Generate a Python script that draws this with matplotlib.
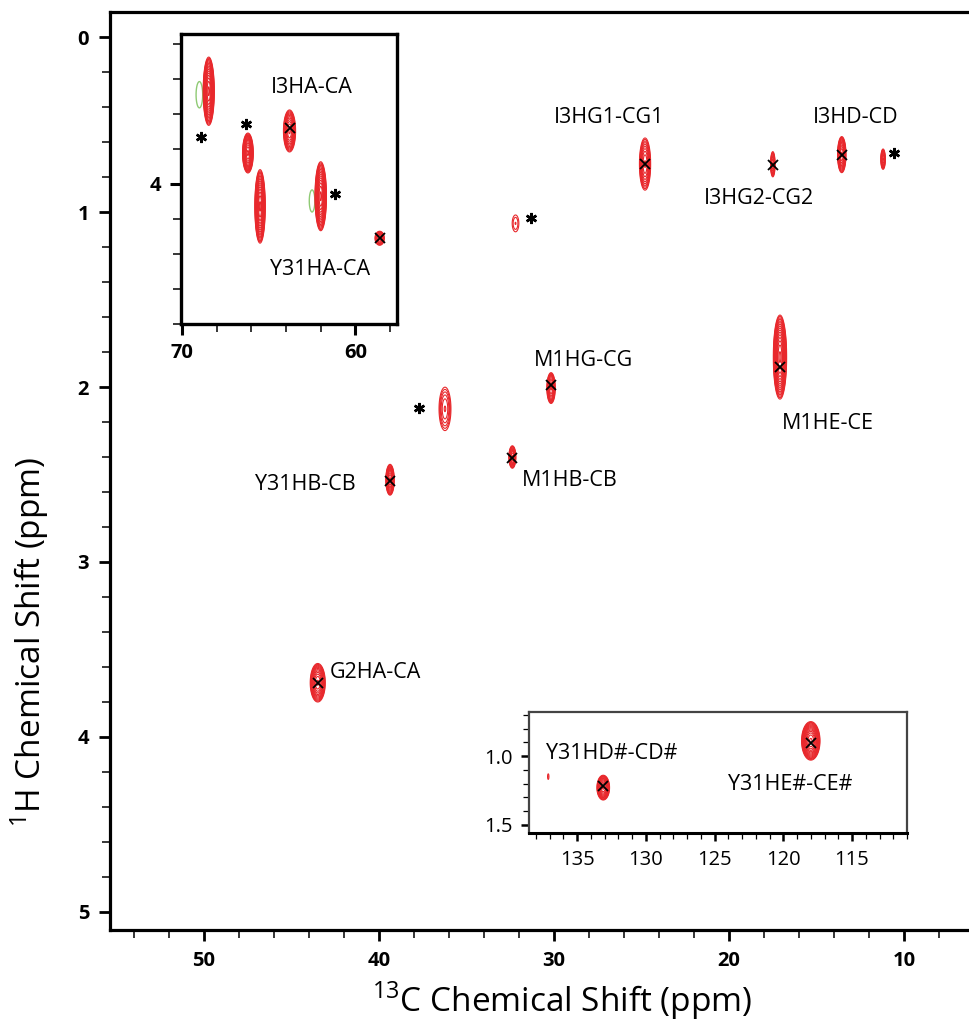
import numpy as np
import matplotlib
matplotlib.use('Agg')
import matplotlib.pyplot as plt
from matplotlib import font_manager as fm
from matplotlib.ticker import MultipleLocator, FixedLocator

# ---------------- data ----------------
# main spectrum peaks: 13C (ppm), 1H (ppm), half-extent C, half-extent H, number of contour levels
main_c = [24.8, 17.5, 13.56, 11.2, 32.2, 30.17, 36.23, 32.38, 39.37, 17.09, 43.5]
main_h = [0.726, 0.727, 0.672, 0.698, 1.065, 2.006, 2.125, 2.40, 2.53, 1.829, 3.69]
main_dc = [0.32, 0.13, 0.24, 0.13, 0.19, 0.24, 0.34, 0.20, 0.24, 0.38, 0.43]
main_dh = [0.149, 0.072, 0.103, 0.058, 0.048, 0.088, 0.124, 0.064, 0.088, 0.24, 0.11]
main_nlev = [10, 8, 12, 8, 3, 10, 6, 10, 12, 16, 12]

# assignment crosses (main)
cross_c = [24.8, 17.5, 13.56, 30.17, 32.38, 39.37, 17.09, 43.5]
cross_h = [0.727, 0.731, 0.674, 1.989, 2.408, 2.537, 1.884, 3.69]

# asterisks (main)
star_c = [31.3, 37.7, 10.6]
star_h = [1.032, 2.118, 0.661]

# labels (main)
lab_text = ['I3HG1-CG1', 'I3HG2-CG2', 'I3HD-CD', 'M1HG-CG', 'M1HB-CB',
            'Y31HB-CB', 'M1HE-CE', 'G2HA-CA']
lab_c = [26.86, 18.29, 12.74, 28.32, 29.12, 44.23, 14.33, 40.23]
lab_h = [0.461, 0.922, 0.461, 1.846, 2.537, 2.556, 2.208, 3.63]

# inset 1 (alpha region)
in1_c = [68.46, 66.2, 65.5, 63.8, 62.0, 58.6]
in1_h = [3.47, 3.823, 4.128, 3.697, 4.07, 4.31]
in1_dc = [0.32, 0.31, 0.30, 0.35, 0.33, 0.27]
in1_dh = [0.195, 0.114, 0.21, 0.12, 0.197, 0.04]
in1_nlev = [16, 14, 16, 12, 16, 8]
in1_neg_c = [69.0, 62.5]
in1_neg_h = [3.49, 4.097]
in1_neg_dc = [0.19, 0.16]
in1_neg_dh = [0.075, 0.063]
in1_cross_c = [63.8, 58.6]
in1_cross_h = [3.68, 4.31]
in1_star_c = [68.9, 66.3, 61.2]
in1_star_h = [3.73, 3.66, 4.06]
in1_lab_text = ['I3HA-CA', 'Y31HA-CA']
in1_lab_c = [62.5, 62.06]
in1_lab_h = [3.446, 4.486]

# inset 2 (aromatic region)
in2_c = [118.0, 133.1, 137.1]
in2_h = [0.89, 1.23, 1.15]
in2_dc = [0.67, 0.46, 0.05]
in2_dh = [0.14, 0.09, 0.02]
in2_nlev = [14, 12, 2]
in2_cross_c = [118.0, 133.1]
in2_cross_h = [0.906, 1.22]
in2_lab_text = ['Y31HD#-CD#', 'Y31HE#-CE#']
in2_lab_c = [132.45, 119.5]
in2_lab_h = [0.985, 1.21]

# ---------------- fonts ----------------
def pick(names):
    for n in names:
        try:
            fm.findfont(fm.FontProperties(family=n), fallback_to_default=False)
            return n
        except Exception:
            pass
    return 'DejaVu Sans'

NARROW = pick(['Liberation Sans Narrow', 'Open Sans'])
LABF = pick(['Open Sans', 'Lato', 'DejaVu Sans'])

plt.rcParams['font.family'] = [LABF, 'DejaVu Sans']
plt.rcParams['mathtext.fontset'] = 'custom'
plt.rcParams['mathtext.rm'] = NARROW

RED = '#e8282c'
GREEN = '#8fca74'
LABSIZE = 15.5
LABW = 'medium'


def draw_peak(ax, c, h, dc, dh, color, nlev, lw=0.8, zorder=2):
    cc = np.linspace(c - 1.3 * dc, c + 1.3 * dc, 180)
    hh = np.linspace(h - 1.3 * dh, h + 1.3 * dh, 180)
    C, H = np.meshgrid(cc, hh)
    Z = np.exp(-0.5 * (((C - c) / (dc / 2.5)) ** 2 + ((H - h) / (dh / 2.5)) ** 2))
    levels = np.geomspace(0.044, 0.95, nlev) if nlev > 1 else [0.044]
    ax.contour(C, H, Z, levels=levels, colors=color, linewidths=lw, zorder=zorder)


W, H_ = 969, 1031
fig = plt.figure(figsize=(W / 100, H_ / 100), dpi=100)

# ---------------- main axes ----------------
ax = fig.add_axes([110 / W, 1 - 930 / H_, (969 - 110) / W, (930 - 12) / H_])
ax.set_xlim(55.37, 6.29)
ax.set_ylim(5.103, -0.143)
for s in ['left', 'bottom', 'top']:
    ax.spines[s].set_linewidth(2.3)
ax.spines['right'].set_visible(False)
ax.xaxis.set_major_locator(FixedLocator([50, 40, 30, 20, 10]))
ax.xaxis.set_minor_locator(MultipleLocator(2))
ax.yaxis.set_major_locator(FixedLocator([0, 1, 2, 3, 4, 5]))
ax.yaxis.set_minor_locator(MultipleLocator(0.2))
ax.tick_params(which='major', direction='out', length=8, width=2.0, labelsize=14.5, pad=7)
ax.tick_params(which='minor', direction='out', length=6, width=1.1)
for lab in ax.get_xticklabels() + ax.get_yticklabels():
    lab.set_family(NARROW)
    lab.set_fontweight('bold')

for c, h, dc, dh, n in zip(main_c, main_h, main_dc, main_dh, main_nlev):
    draw_peak(ax, c, h, dc, dh, RED, n)
ax.plot(cross_c, cross_h, 'x', color='black', ms=7, mew=1.3, zorder=4)
ax.plot(star_c, star_h, linestyle='none', marker=(6, 2, 0), color='black', ms=8, mew=1.8, zorder=4)
for t, c, h in zip(lab_text, lab_c, lab_h):
    ax.text(c, h, t, ha='center', va='center', fontsize=LABSIZE, fontweight=LABW,
            color='black', zorder=5)

fig.text(562 / W, 1 - 1001 / H_, r'$^{\mathregular{13}}$C Chemical Shift (ppm)',
         ha='center', va='center', fontsize=24, family=NARROW)
fig.text(30 / W, 1 - 642 / H_, r'$^{\mathregular{1}}$H Chemical Shift (ppm)',
         ha='center', va='center', fontsize=24, family=NARROW, rotation=90)

# ---------------- inset 1 ----------------
a1 = fig.add_axes([181 / W, 1 - 324 / H_, (397 - 181) / W, (324 - 34) / H_], zorder=3)
a1.set_xlim(70.06, 57.6)
a1.set_ylim(4.8, 3.143)
for s in a1.spines.values():
    s.set_linewidth(2.4)
a1.xaxis.set_major_locator(FixedLocator([70, 60]))
a1.xaxis.set_minor_locator(MultipleLocator(2))
a1.yaxis.set_major_locator(FixedLocator([4]))
a1.yaxis.set_minor_locator(MultipleLocator(0.2))
a1.tick_params(which='major', direction='out', length=8, width=2.2, labelsize=14.5, pad=6)
a1.tick_params(which='minor', direction='out', length=6, width=1.1)
for lab in a1.get_xticklabels() + a1.get_yticklabels():
    lab.set_family(NARROW)
    lab.set_fontweight('bold')
for c, h, dc, dh in zip(in1_neg_c, in1_neg_h, in1_neg_dc, in1_neg_dh):
    draw_peak(a1, c, h, dc, dh, GREEN, 1, lw=1.0, zorder=1)
for c, h, dc, dh, n in zip(in1_c, in1_h, in1_dc, in1_dh, in1_nlev):
    draw_peak(a1, c, h, dc, dh, RED, n)
a1.plot(in1_cross_c, in1_cross_h, 'x', color='black', ms=7, mew=1.3, zorder=4)
a1.plot(in1_star_c, in1_star_h, linestyle='none', marker=(6, 2, 0), color='black', ms=8, mew=1.8, zorder=4)
for t, c, h in zip(in1_lab_text, in1_lab_c, in1_lab_h):
    a1.text(c, h, t, ha='center', va='center', fontsize=LABSIZE, fontweight=LABW,
            color='black', zorder=5)

# ---------------- inset 2 ----------------
a2 = fig.add_axes([529 / W, 1 - 833 / H_, (907 - 529) / W, (833 - 712) / H_], zorder=3)
a2.set_xlim(138.5, 111.0)
a2.set_ylim(1.56, 0.68)
for s in a2.spines.values():
    s.set_linewidth(1.6)
    s.set_color('#444444')
a2.spines['bottom'].set_color('black')
a2.spines['bottom'].set_linewidth(2.2)
a2.xaxis.set_major_locator(FixedLocator([135, 130, 125, 120, 115]))
a2.xaxis.set_minor_locator(MultipleLocator(1))
a2.yaxis.set_major_locator(FixedLocator([1.0, 1.5]))
a2.yaxis.set_minor_locator(MultipleLocator(0.1))
a2.set_yticklabels(['1.0', '1.5'])
a2.tick_params(which='major', direction='out', length=6, width=1.8, labelsize=14.5, pad=6)
a2.tick_params(which='minor', direction='out', length=4, width=0.9)
for lab in a2.get_xticklabels() + a2.get_yticklabels():
    lab.set_family(NARROW)
    lab.set_fontweight('medium')
for c, h, dc, dh, n in zip(in2_c, in2_h, in2_dc, in2_dh, in2_nlev):
    draw_peak(a2, c, h, dc, dh, RED, n)
a2.plot(in2_cross_c, in2_cross_h, 'x', color='black', ms=7, mew=1.3, zorder=4)
for t, c, h in zip(in2_lab_text, in2_lab_c, in2_lab_h):
    a2.text(c, h, t, ha='center', va='center', fontsize=LABSIZE, fontweight=LABW,
            color='black', zorder=5)

fig.savefig('out.png', dpi=100)
